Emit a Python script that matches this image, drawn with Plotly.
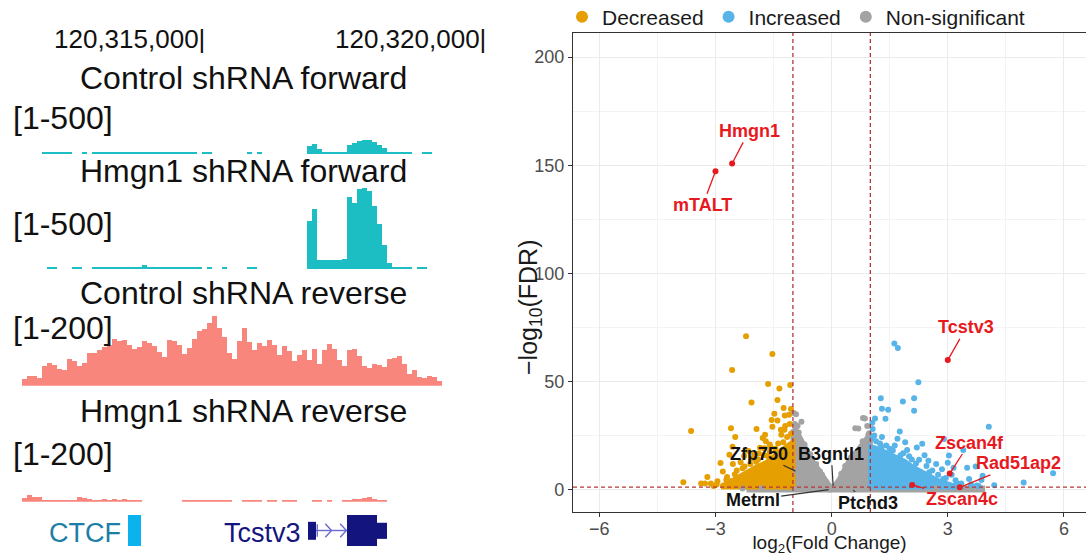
import math
import plotly.graph_objects as go

# ===================== Left panel: genome-browser tracks =====================
view_start = 120311371
view_end = 120320266
coord_ticks = [120315000, 120320000]
coord_tick_labels = ["120,315,000|", "120,320,000|"]

bin_size = 89
fwd_start = 120312118
rev_start = 120311762

ctrl_fwd = [10, 10, 10, 10, 10, 10, 0, 0, 10, 0,
            10,
            10, 10, 10, 10, 10, 10, 10, 10, 10,
            10,
            10, 10, 10, 10, 10, 10, 10, 10, 10, 10,
            0, 10, 10,
            0, 0, 0, 0, 0, 0, 0,
            10, 0, 10,
            0, 0, 0, 0, 0, 0, 0, 0, 0,
            40, 50, 25,
            10, 10, 10, 10, 10,
            45, 55, 65, 70, 70, 60, 45, 30, 10,
            10, 10, 10, 10, 0, 0, 10, 10, 0, 0]

hmgn1_fwd = [0, 10, 10, 0, 0, 0, 10, 10, 0, 0,
             10,
             10, 10, 10, 10, 10, 10, 10, 10, 10,
             20,
             10, 10, 10, 10, 10, 10, 10, 10, 10, 10, 10,
             0, 10, 0, 0, 10, 0, 0, 0, 0,
             10, 10,
             0, 0, 0, 0, 0, 0, 0, 0, 0,
             0,
             240, 300, 45, 45, 45, 45, 45, 50,
             360, 330, 400, 405, 390, 315, 225, 120, 30,
             10, 10, 10, 10, 0, 10, 10, 0, 0, 0]

ctrl_rev = [18, 25, 25, 20, 50, 58, 53, 43, 40, 68,
            63, 50, 58, 83, 83, 90, 98, 103, 118, 113,
            115, 103, 93, 98, 113, 108, 100, 85, 73, 115,
            113, 103, 80, 95, 118, 138, 143, 158, 175, 145,
            123, 83, 68, 113, 145, 110, 90, 108, 100, 115,
            103, 78, 100, 88, 63, 78, 90, 65, 93, 55,
            90, 105, 93, 65, 50, 90, 93, 75, 50, 45,
            55, 53, 48, 68, 70, 75, 55, 30, 40, 23,
            20, 25, 23, 13]

hmgn1_rev = [10, 18, 13, 13, 5, 5, 5, 5, 5, 5,
             5, 13, 10, 8, 5, 5, 8, 5, 8, 5,
             8, 5, 5, 5, 0, 0, 0, 0, 0, 0,
             0, 0, 5, 5, 5, 5, 5, 5, 5, 5,
             5, 5, 0, 0, 5, 5, 5, 5, 0, 5,
             5, 0, 5, 5, 5, 0, 0, 0, 5, 5,
             0, 5, 0, 0, 5, 5, 8, 8, 10, 13,
             8, 5, 5, 0, 0, 0, 0, 0, 0, 0,
             0, 0, 0, 0]

track_titles = ["Control shRNA forward", "Hmgn1 shRNA forward",
                "Control shRNA reverse", "Hmgn1 shRNA reverse"]
track_scales = ["[1-500]", "[1-500]", "[1-200]", "[1-200]"]
track_max = [500, 500, 200, 200]

ctcf_site = [120313648, 120313879]
tcstv3_utr5 = [120316850, 120316993]
tcstv3_intron = [120316993, 120317544]
tcstv3_cds = [120317544, 120318078]
tcstv3_utr3 = [120318078, 120318256]

# ===================== Right panel: volcano plot =====================
fc_threshold = 1.0
fdr_threshold = 0.05

decreased_x = [-2.21, -1.53, -2.57, -1.64, -1.07, -1.35, -2.07, -1.40, -1.24, -1.05,
               -1.21, -1.10, -1.48, -1.55, -1.40, -3.63, -2.60, -1.94, -1.53, -1.31,
               -1.22, -2.49, -1.72, -1.78, -2.56, -2.87, -2.64, -2.26, -1.74, -1.65,
               -2.81, -3.21, -3.83, -3.37, -3.27, -3.12, -2.97,
               -2.30, -2.10, -1.90, -1.75, -1.60, -1.45, -1.25, -1.15, -1.05, -1.60,
               -2.00, -2.45, -2.70, -2.95, -2.80, -3.05, -1.30, -1.20, -1.08, -1.85,
               -2.15, -1.70, -1.95, -2.55, -2.40, -2.60, -2.20, -2.00, -1.80, -1.50,
               -1.30, -1.10, -2.35, -2.05, -1.88, -1.58, -1.38, -2.50, -2.72, -2.25]
decreased_y = [71.0, 62.8, 55.4, 48.9, 48.5, 46.9, 40.4, 41.5, 37.8, 37.4,
               34.4, 34.7, 35.2, 32.3, 32.1, 27.2, 28.5, 28.2, 29.2, 27.8,
               27.8, 24.4, 25.5, 24.0, 20.0, 12.4, 16.2, 15.7, 19.3, 15.7,
               8.5, 6.0, 3.6, 3.0, 3.0, 3.0, 2.5,
               10.0, 12.0, 14.0, 16.0, 17.5, 19.0, 22.0, 24.5, 26.0, 21.0,
               16.5, 9.0, 6.0, 4.0, 2.0, 1.8, 25.5, 29.5, 30.5, 19.5,
               18.0, 22.5, 13.0, 12.0, 2.5, 4.0, 5.0, 8.0, 10.0, 12.0,
               15.0, 18.0, 12.8, 14.5, 16.8, 19.8, 21.5, 7.2, 4.6, 10.8]

increased_x = [1.62, 1.71, 2.24, 1.27, 1.84, 2.13, 2.13, 1.30, 1.46, 1.39,
               4.06, 1.06, 1.10, 1.76, 1.70, 1.41, 1.63, 2.20, 2.34, 2.90,
               3.40, 3.03, 2.26, 2.07, 3.50, 3.72, 3.15, 3.87, 4.96, 5.72,
               1.05, 1.15, 1.25, 1.50, 1.85, 2.00, 2.45, 2.60, 2.75, 2.95,
               3.20, 3.35, 3.60, 3.75, 3.55, 3.10, 2.85, 2.40, 1.95, 1.30,
               3.80, 4.20, 3.90, 1.48, 1.29, 2.70, 2.50, 3.00, 1.05, 1.12,
               1.90, 2.60, 2.30, 2.00, 1.58, 1.78, 2.18, 2.52, 2.88, 3.25]
increased_y = [67.6, 65.6, 49.7, 42.3, 40.9, 42.3, 36.6, 37.5, 37.0, 32.9,
               29.2, 28.2, 25.1, 27.0, 23.6, 20.5, 20.5, 19.6, 21.3, 23.5,
               18.5, 15.9, 13.9, 14.0, 10.2, 10.8, 10.2, 4.6, 3.4, 7.7,
               24.0, 22.5, 21.5, 19.0, 17.0, 15.5, 11.0, 9.0, 7.0, 5.5,
               4.5, 3.0, 2.5, 2.0, 5.0, 7.0, 9.5, 16.0, 18.5, 24.5,
               1.8, 2.2, 6.5, 16.5, 20.0, 12.0, 13.5, 12.5, 31.0, 33.0,
               22.0, 3.0, 5.0, 7.0, 18.2, 16.0, 12.2, 8.2, 5.0, 2.8]

nonsig_x = [-0.98, -0.92, -0.78, -0.88, 0.61, 0.81, 0.86, 0.69, 0.97, 0.92,
            -0.95, 3.85, 3.60, -2.30, -1.80, 2.70, 0.30, -0.30, 0.50, -0.60,
            -0.85, -0.70, -0.55, -0.40, -0.25, 0.25, 0.35, 0.55, 0.80, 0.95]
nonsig_y = [35.5, 35.0, 31.5, 29.5, 28.5, 33.2, 33.0, 28.4, 26.2, 29.5,
            30.5, 0.6, 0.5, 0.6, 0.8, 0.8, 6.5, 8.5, 15.0, 16.0,
            26.5, 21.0, 16.5, 12.0, 7.0, 7.5, 11.0, 16.5, 22.5, 25.5]

# outlines of the densest (over-plotted) parts of each point cloud
nonsig_band_x = [-2.2, 3.9, 3.9, -2.2]
nonsig_band_y = [0.0, 0.0, 0.9, 0.9]
nonsig_left_x = [-1.0, -1.0, -0.93, -0.82, -0.66, -0.50, -0.32, -0.15, -0.02, -0.02]
nonsig_left_y = [0.0, 27.0, 28.0, 24.5, 18.5, 13.5, 9.0, 4.5, 1.0, 0.0]
nonsig_right_x = [0.05, 0.10, 0.20, 0.45, 0.70, 0.90, 1.0, 1.0]
nonsig_right_y = [0.0, 2.5, 5.0, 13.5, 19.0, 24.0, 26.0, 0.0]
decreased_core_x = [-1.0, -1.0, -1.1, -1.3, -1.5, -1.7, -1.95, -2.2, -2.45, -2.7, -2.85, -1.0]
decreased_core_y = [1.4, 22.0, 21.0, 18.0, 15.0, 12.5, 10.5, 8.0, 5.5, 3.0, 1.4, 1.4]
increased_core_x = [1.0, 1.0, 1.2, 1.45, 1.65, 1.9, 2.1, 2.35, 2.55, 2.8, 3.1, 3.4, 1.0]
increased_core_y = [1.4, 20.0, 19.0, 17.0, 15.5, 13.0, 10.5, 8.0, 6.0, 3.8, 2.2, 1.4, 1.4]

highlight_genes = ["Hmgn1", "mTALT", "Tcstv3", "Zscan4f", "Rad51ap2", "Zscan4c"]
highlight_x = [-2.57, -3.00, 3.00, 3.05, 3.31, 2.08]
highlight_y = [150.8, 147.2, 60.0, 7.6, 1.2, 2.3]
highlight_label_x = [-2.13, -3.33, 3.48, 3.57, 4.83, 3.36]
highlight_label_y = [165.9, 131.5, 75.1, 21.9, 12.3, -4.2]

other_genes = ["Zfp750", "B3gntl1", "Metrnl", "Ptchd3"]
other_x = [-0.91, 0.04, -0.05, 0.54]
other_y = [8.5, 1.4, 0.2, 0.2]
other_label_x = [-1.87, -0.01, -2.04, 0.94]
other_label_y = [16.7, 16.7, -4.6, -6.2]

x_ticks = [-6, -3, 0, 3, 6]
y_ticks = [0, 50, 100, 150, 200]

# ===================== styles =====================
W, H = 1086, 556
FONT = "Liberation Sans, Arial, sans-serif"
CYAN = "#1DBEC3"
SALMON = "#F8867C"
ORANGE = "#E69F00"
BLUE = "#56B4E9"
GREY = "#A3A3A3"
RED = "#E8191E"
DASH_RED = "#B5373A"
NAVY = "#14147E"


def py(px_from_top):
    return 1 - px_from_top / H


fig = go.Figure()

# ---------- coverage tracks ----------
track_data = [ctrl_fwd, hmgn1_fwd, ctrl_rev, hmgn1_rev]
track_start = [fwd_start, fwd_start, rev_start, rev_start]
track_color = [CYAN, CYAN, SALMON, SALMON]
track_axes = ["y2", "y3", "y4", "y5"]
for vals, st, col, ya in zip(track_data, track_start, track_color, track_axes):
    centers = [st + bin_size * (i + 0.5) for i in range(len(vals))]
    fig.add_trace(go.Bar(x=centers, y=vals, xaxis="x2", yaxis=ya,
                         width=bin_size * 0.96, marker=dict(color=col, line=dict(width=0)),
                         showlegend=False, hoverinfo="skip"))


# ---------- volcano ----------
def core(xs, ys, col):
    fig.add_trace(go.Scatter(x=xs, y=ys, mode="lines", fill="toself", fillcolor=col,
                             line=dict(color=col, width=5), showlegend=False,
                             hoverinfo="skip", xaxis="x", yaxis="y"))


core(nonsig_band_x, nonsig_band_y, GREY)
core(nonsig_left_x, nonsig_left_y, GREY)
core(nonsig_right_x, nonsig_right_y, GREY)
core(decreased_core_x, decreased_core_y, ORANGE)
core(increased_core_x, increased_core_y, BLUE)

mk = 6
fig.add_trace(go.Scatter(x=nonsig_x + other_x, y=nonsig_y + other_y, mode="markers",
                         name="Non-significant", marker=dict(color=GREY, size=mk),
                         legendrank=3, hoverinfo="skip"))
fig.add_trace(go.Scatter(x=decreased_x, y=decreased_y, mode="markers", name="Decreased",
                         marker=dict(color=ORANGE, size=mk), legendrank=1, hoverinfo="skip"))
fig.add_trace(go.Scatter(x=increased_x, y=increased_y, mode="markers", name="Increased",
                         marker=dict(color=BLUE, size=mk), legendrank=2, hoverinfo="skip"))
fig.add_trace(go.Scatter(x=highlight_x, y=highlight_y, mode="markers", showlegend=False,
                         marker=dict(color=RED, size=6), hoverinfo="skip"))

annotations = []
for g, x, y, lx, ly in zip(highlight_genes, highlight_x, highlight_y, highlight_label_x, highlight_label_y):
    annotations.append(dict(x=x, y=y, ax=lx, ay=ly, xref="x", yref="y", axref="x", ayref="y",
                            text="<b>%s</b>" % g, showarrow=True, arrowhead=0, arrowwidth=1.3,
                            arrowcolor=RED, standoff=2, font=dict(size=18, color=RED, family=FONT)))
for g, x, y, lx, ly in zip(other_genes, other_x, other_y, other_label_x, other_label_y):
    annotations.append(dict(x=x, y=y, ax=lx, ay=ly, xref="x", yref="y", axref="x", ayref="y",
                            text="<b>%s</b>" % g, showarrow=True, arrowhead=0, arrowwidth=1.2,
                            arrowcolor="#333333", standoff=1, font=dict(size=18, color="#111111", family=FONT)))

# y-axis title
annotations.append(dict(x=530 / W, y=py(308), xref="paper", yref="paper", xanchor="center",
                        yanchor="middle", textangle=-90, showarrow=False,
                        text="\u2212log<sub>10</sub>(FDR)", font=dict(size=25, color="#1A1A1A", family=FONT)))

# threshold lines
shapes = []
for xv in [-fc_threshold, fc_threshold]:
    shapes.append(dict(type="line", xref="x", yref="y domain", x0=xv, x1=xv, y0=0, y1=1,
                       line=dict(color=DASH_RED, width=1.3, dash="4px,3px")))
hy = -math.log10(fdr_threshold)
shapes.append(dict(type="line", xref="x domain", yref="y", x0=0, x1=1, y0=hy, y1=hy,
                   line=dict(color=DASH_RED, width=1.3, dash="4px,3px")))


# ---------- gene annotation track ----------
def box(x0, x1, y0, y1, col):
    shapes.append(dict(type="rect", xref="x2", yref="y6", x0=x0, x1=x1, y0=y0, y1=y1,
                       fillcolor=col, line=dict(width=0)))


box(ctcf_site[0], ctcf_site[1], 0, 1, "#0AB2EE")
box(tcstv3_utr5[0], tcstv3_utr5[1], 0.2, 0.78, NAVY)
box(tcstv3_cds[0], tcstv3_cds[1], 0, 1, NAVY)
box(tcstv3_utr3[0], tcstv3_utr3[1], 0.23, 0.75, NAVY)
# intron line with strand chevrons
ARROW_COL = "#6A6AD2"
shapes.append(dict(type="line", xref="x2", yref="y6", x0=tcstv3_intron[0], x1=tcstv3_intron[1],
                   y0=0.5, y1=0.5, line=dict(color=ARROW_COL, width=1.4)))
intron_len = tcstv3_intron[1] - tcstv3_intron[0]
chev_w = intron_len * 0.2
for frac in [0.5, 0.98]:
    cx = tcstv3_intron[0] + intron_len * frac
    shapes.append(dict(type="path", xref="x2", yref="y6",
                       path="M %f 0.72 L %f 0.5 L %f 0.28" % (cx - chev_w, cx, cx - chev_w),
                       line=dict(color=ARROW_COL, width=1.4)))
shapes.append(dict(type="line", xref="x2", yref="y6", x0=tcstv3_intron[0] + intron_len * 0.04,
                   x1=tcstv3_intron[0] + intron_len * 0.04, y0=0.3, y1=0.7,
                   line=dict(color=ARROW_COL, width=1.4)))

annotations.append(dict(x=tcstv3_utr5[0], y=py(533), xref="x2", yref="paper", xanchor="right",
                        yanchor="middle", xshift=-5, text="Tcstv3", showarrow=False,
                        font=dict(size=27, color=NAVY, family=FONT)))
annotations.append(dict(x=ctcf_site[0], y=py(533), xref="x2", yref="paper", xanchor="right",
                        yanchor="middle", xshift=-5, text="CTCF", showarrow=False,
                        font=dict(size=27, color="#1B7EA6", family=FONT)))

# coordinate labels
for t, lab in zip(coord_ticks, coord_tick_labels):
    annotations.append(dict(x=t, y=py(38.5), xref="x2", yref="paper", xanchor="right",
                            yanchor="middle", xshift=3, text=lab, showarrow=False,
                            font=dict(size=26, color="#111111", family=FONT)))

title_y = [78, 171, 293, 411]
scale_y = [118, 224, 328, 454]
for t, s, ty, sy in zip(track_titles, track_scales, title_y, scale_y):
    annotations.append(dict(x=243 / W, y=py(ty), xref="paper", yref="paper", xanchor="center",
                            yanchor="middle", text=t, showarrow=False,
                            font=dict(size=32, color="#111111", family=FONT)))
    annotations.append(dict(x=11 / W, y=py(sy), xref="paper", yref="paper", xanchor="left",
                            yanchor="middle", text=s, showarrow=False,
                            font=dict(size=32, color="#111111", family=FONT)))

hidden = dict(visible=False, fixedrange=True)
track_dom = [(54, 154), (169.3, 269.3), (305.7, 385.7), (421.7, 501.7)]
layout_axes = {}
for i, (top, bot) in enumerate(track_dom):
    layout_axes["yaxis%d" % (i + 2)] = dict(domain=[py(bot), py(top)], range=[0, track_max[i]],
                                            anchor="x2", **hidden)
layout_axes["yaxis6"] = dict(domain=[py(546), py(515)], range=[0, 1], anchor="x2", **hidden)

AX_COL = "#333333"
fig.update_layout(
    width=W, height=H, margin=dict(l=0, r=0, t=0, b=0, autoexpand=False),
    paper_bgcolor="white", plot_bgcolor="white", template="none",
    font=dict(family=FONT, color="#111111"),
    bargap=0, hovermode=False,
    xaxis=dict(domain=[573 / W, 1.0], range=[-6.68, 6.57], tickvals=x_ticks,
               showline=True, linecolor=AX_COL, linewidth=1.3, mirror=True,
               ticks="outside", ticklen=4, tickcolor=AX_COL, tickwidth=1.1,
               tickfont=dict(size=18, color="#4D4D4D"), ticklabelstandoff=-4,
               showgrid=True, gridcolor="#EBEBEB", gridwidth=1.1, zeroline=False,
               minor=dict(tickvals=[-4.5, -1.5, 1.5, 4.5], showgrid=True, gridcolor="#F3F3F3", gridwidth=0.8),
               title=dict(text="log<sub>2</sub>(Fold Change)", font=dict(size=19, color="#1A1A1A"), standoff=5),
               automargin=False, anchor="y", fixedrange=True),
    yaxis=dict(domain=[py(512), py(33)], range=[-10.2, 211.1], tickvals=y_ticks,
               showline=True, linecolor=AX_COL, linewidth=1.3, mirror=False,
               ticks="outside", ticklen=4, tickcolor=AX_COL, tickwidth=1.1,
               tickfont=dict(size=18, color="#4D4D4D"),
               showgrid=True, gridcolor="#EBEBEB", gridwidth=1.1, zeroline=False,
               minor=dict(tickvals=[25, 75, 125, 175], showgrid=True, gridcolor="#F3F3F3", gridwidth=0.8),
               automargin=False, anchor="x", fixedrange=True),
    xaxis2=dict(domain=[0, 500 / W], range=[view_start, view_end], anchor="y2", **hidden),
    legend=dict(orientation="h", x=562 / W, y=py(17), xanchor="left", yanchor="middle",
                font=dict(size=21, color="#1A1A1A", family=FONT), itemsizing="constant",
                bgcolor="rgba(0,0,0,0)", borderwidth=0, traceorder="normal"),
    shapes=shapes, annotations=annotations,
    **layout_axes,
)

fig.write_html("out.html", config={"displayModeBar": False})
